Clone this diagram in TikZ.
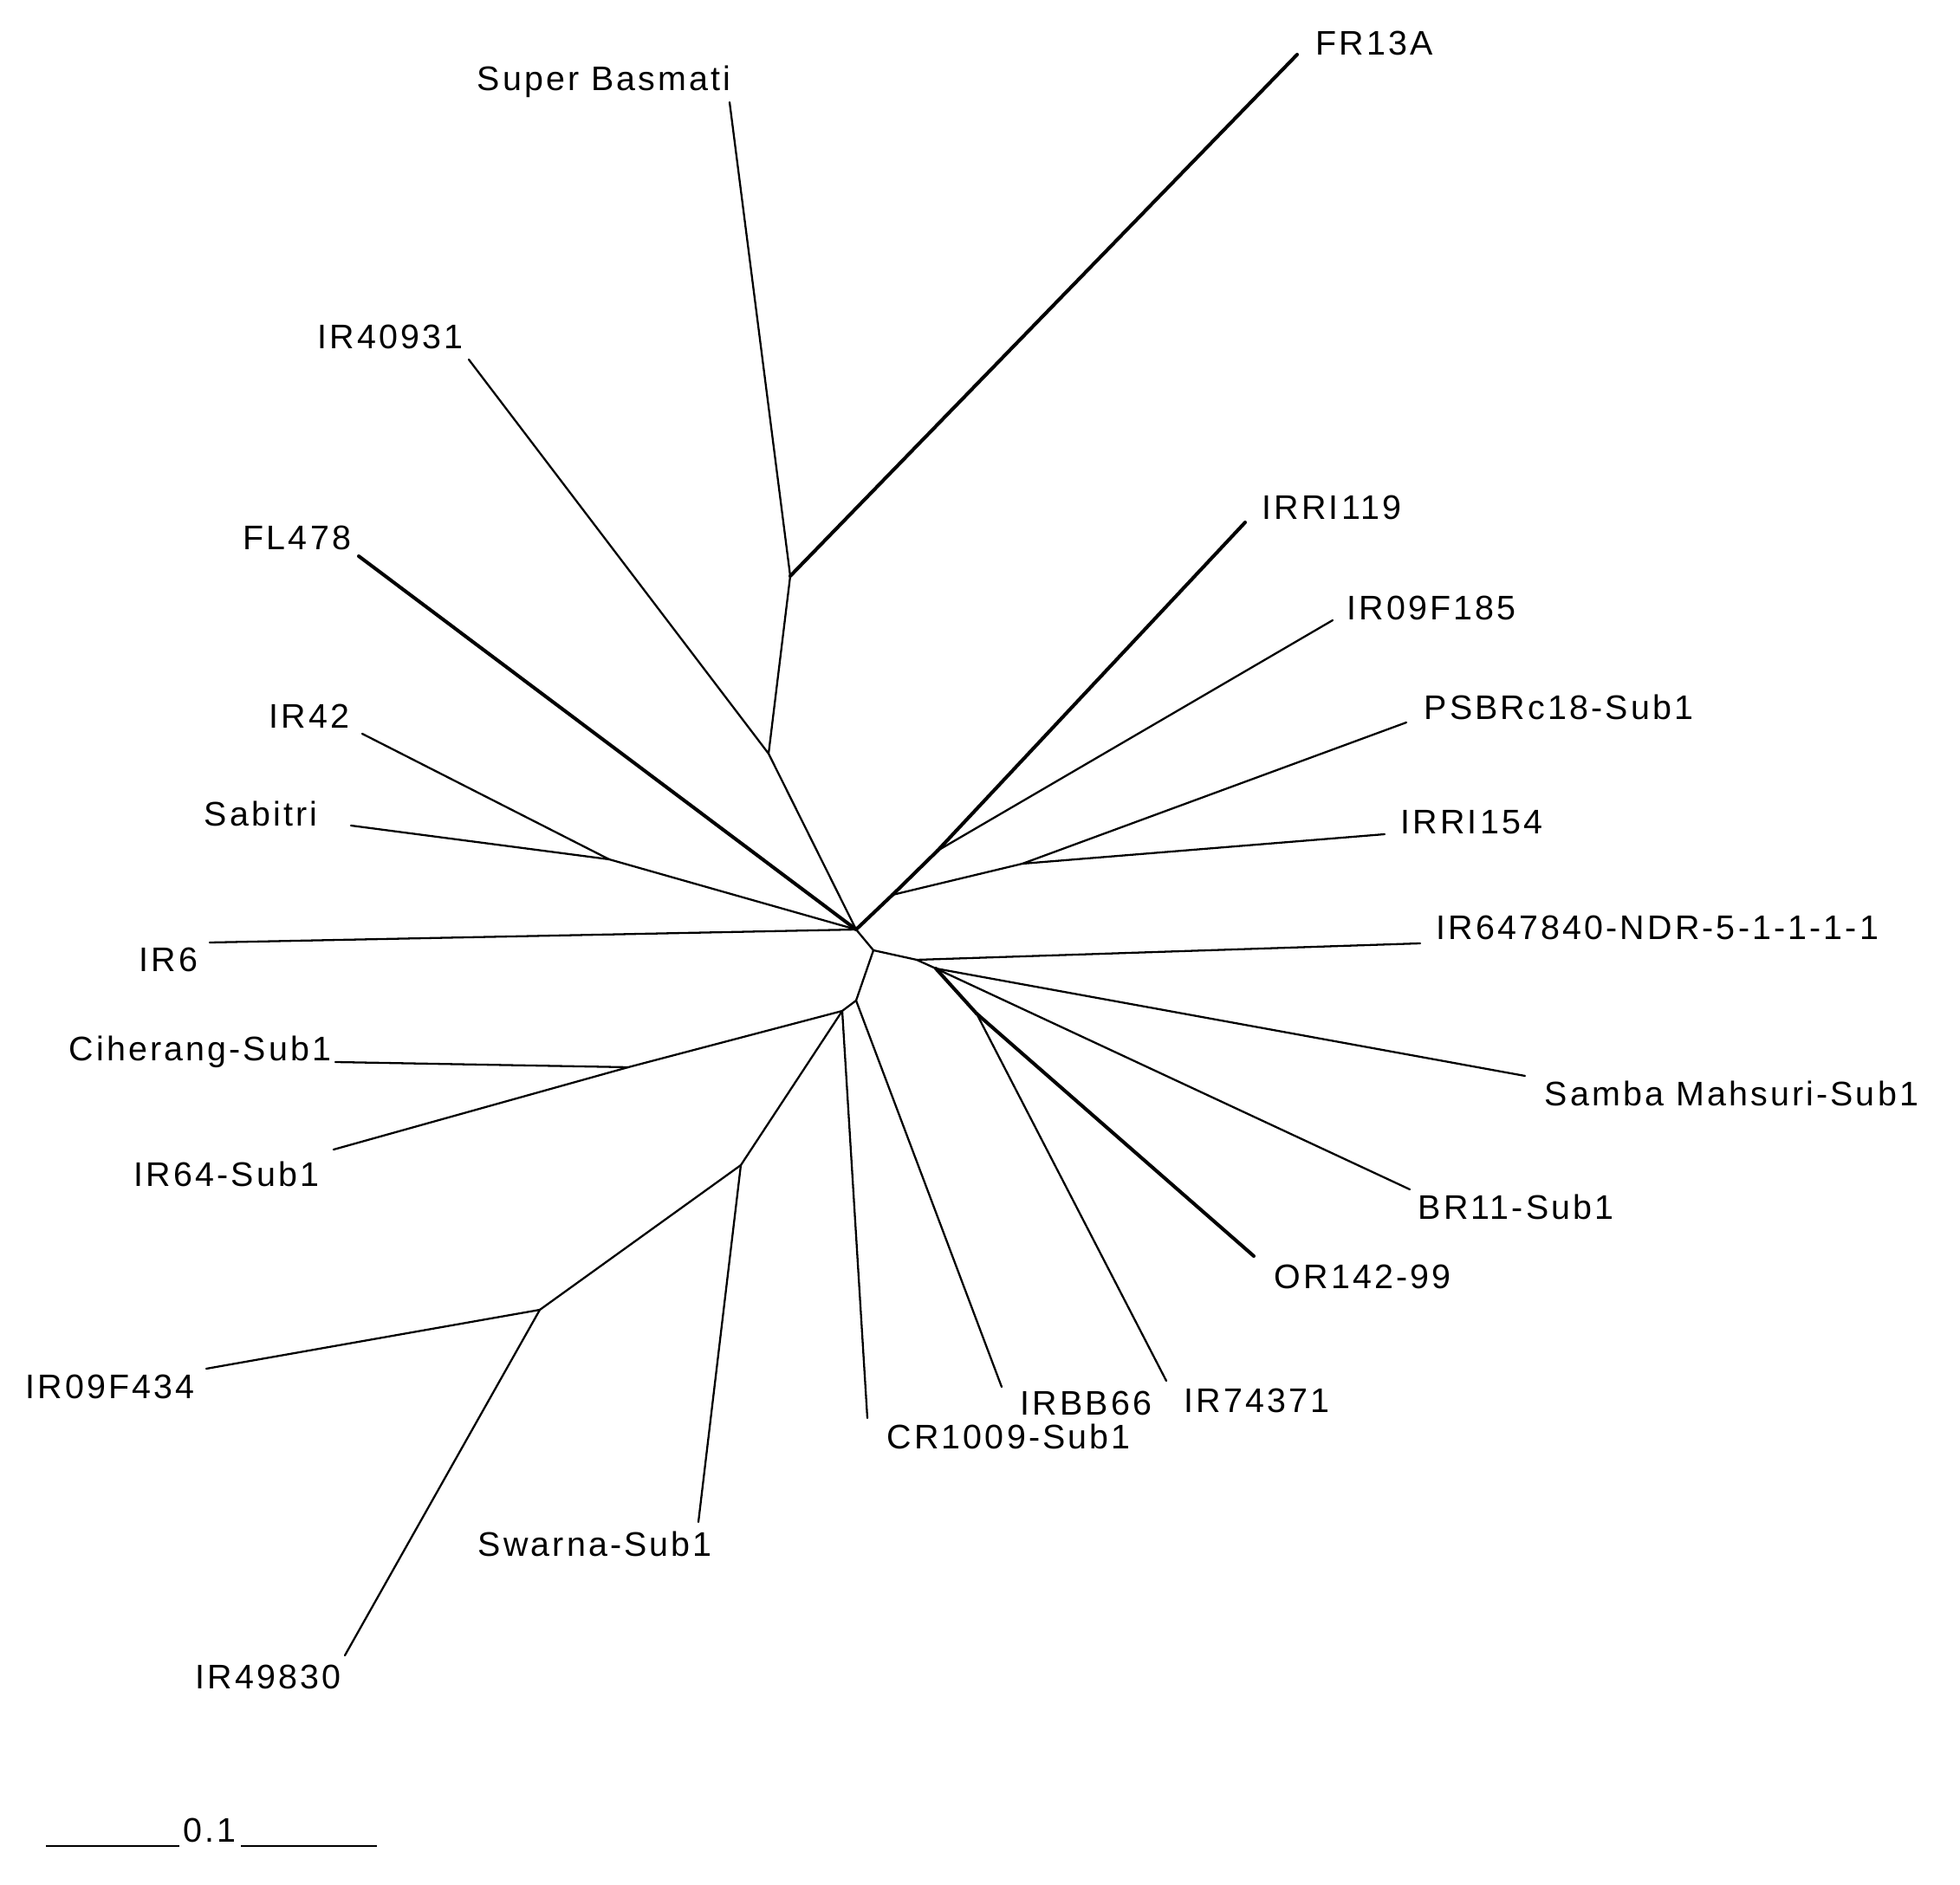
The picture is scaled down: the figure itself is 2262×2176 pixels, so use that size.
\documentclass[tikz,border=0pt]{standalone}
\usepackage{fontspec}
\setmainfont{Liberation Sans}[LetterSpace=8.0]
\usepackage{tikz}
\usetikzlibrary{positioning}
\usetikzlibrary{calc}

\begin{document}
\begin{tikzpicture}[x=0.01cm, y=-0.01cm,
  branch/.style={line width=0.65pt, line cap=round},
  boldbranch/.style={line width=1.15pt, line cap=round},
  lbl/.style={anchor=base west, inner sep=0pt, font=\fontsize{11.2pt}{13pt}\selectfont}]
\useasboundingbox (0,0) rectangle (2262,2176);
% -- inner nodes --
\coordinate (A) at (988,1073);
\coordinate (B) at (1008,1097);
\coordinate (C) at (988,1155);
\coordinate (D) at (972,1167);
\coordinate (E) at (1030,1033);
\coordinate (Ea) at (1082,982);
\coordinate (Eb) at (1180,997);
\coordinate (F) at (1058,1108);
\coordinate (G) at (1080,1118);
\coordinate (H) at (1127,1170);
\coordinate (I) at (855,1345);
\coordinate (J) at (623,1512);
\coordinate (K) at (887,870);
\coordinate (L) at (703,992);
\coordinate (M) at (912,665);
\coordinate (N) at (725,1232);
% -- tips --
\coordinate (fr13a) at (1497,63);
\coordinate (basmati) at (842,118);
\coordinate (ir40931) at (541,415);
\coordinate (fl478) at (414,642);
\coordinate (ir42) at (418,847);
\coordinate (sabitri) at (405,953);
\coordinate (ir6) at (242,1088);
\coordinate (ciherang) at (387,1226);
\coordinate (ir64) at (385,1327);
\coordinate (ir09f434) at (238,1580);
\coordinate (ir49830) at (398,1911);
\coordinate (swarna) at (806,1757);
\coordinate (cr1009) at (1001,1637);
\coordinate (irbb66) at (1156,1601);
\coordinate (ir74371) at (1346,1594);
\coordinate (or142) at (1447,1450);
\coordinate (br11) at (1627,1373);
\coordinate (samba) at (1760,1242);
\coordinate (ir647840) at (1639,1089);
\coordinate (irri154) at (1598,963);
\coordinate (psbrc18) at (1623,834);
\coordinate (ir09f185) at (1538,716);
\coordinate (irri119) at (1437,603);
% -- upper left clade --
\draw[branch] (A) -- (K);
\draw[branch] (K) -- (M);
\draw[branch] (K) -- (ir40931);
\draw[branch] (M) -- (basmati);
\draw[boldbranch] (M) -- (fr13a);
\draw[boldbranch] (A) -- (fl478);
\draw[branch] (A) -- (L);
\draw[branch] (L) -- (ir42);
\draw[branch] (L) -- (sabitri);
\draw[branch] (A) -- (ir6);
% -- upper right clade --
\draw[boldbranch] (A) -- (E);
\draw[boldbranch] (E) -- (Ea);
\draw[boldbranch] (Ea) -- (irri119);
\draw[branch] (Ea) -- (ir09f185);
\draw[branch] (E) -- (Eb);
\draw[branch] (Eb) -- (psbrc18);
\draw[branch] (Eb) -- (irri154);
% -- lower right clade --
\draw[branch] (A) -- (B);
\draw[branch] (B) -- (F);
\draw[branch] (F) -- (ir647840);
\draw[branch] (F) -- (G);
\draw[branch] (G) -- (samba);
\draw[branch] (G) -- (br11);
\draw[boldbranch] (G) -- (H);
\draw[boldbranch] (H) -- (or142);
\draw[branch] (H) -- (ir74371);
% -- lower left clade --
\draw[branch] (B) -- (C);
\draw[branch] (C) -- (irbb66);
\draw[branch] (C) -- (D);
\draw[branch] (D) -- (cr1009);
\draw[branch] (D) -- (N);
\draw[branch] (N) -- (ciherang);
\draw[branch] (N) -- (ir64);
\draw[branch] (D) -- (I);
\draw[branch] (I) -- (swarna);
\draw[branch] (I) -- (J);
\draw[branch] (J) -- (ir09f434);
\draw[branch] (J) -- (ir49830);
% -- labels --
\node[lbl] (lfr13a) at (1518,64) {FR13A};
\node[lbl] (lbasmati) at (550,105) {Super Basmati};
\node[lbl] (lir40931) at (366,403) {IR40931};
\node[lbl] (lfl478) at (280,635) {FL478};
\node[lbl] (lir42) at (310,841) {IR42};
\node[lbl] (lsabitri) at (235,954) {Sabitri};
\node[lbl] (lir6) at (160,1122) {IR6};
\node[lbl] (lciherang) at (79,1225) {Ciherang-Sub1};
\node[lbl] (lir64) at (154,1369) {IR64-Sub1};
\node[lbl] (lir09f434) at (29,1614) {IR09F434};
\node[lbl] (lir49830) at (225,1949) {IR49830};
\node[lbl] (lswarna) at (551,1796) {Swarna-Sub1};
\node[lbl] (lcr1009) at (1023,1672) {CR1009-Sub1};
\node[lbl] (lirbb66) at (1177,1633) {IRBB66};
\node[lbl] (lir74371) at (1366,1630) {IR74371};
\node[lbl] (lor142) at (1470,1487) {OR142-99};
\node[lbl] (lbr11) at (1636,1407) {BR11-Sub1};
\node[lbl] (lsamba) at (1782,1277) {Samba Mahsuri-Sub1};
\node[lbl] (lir647840) at (1657,1085) {IR647840-NDR-5-1-1-1-1};
\node[lbl] (lirri154) at (1616,962) {IRRI154};
\node[lbl] (lpsbrc18) at (1643,831) {PSBRc18-Sub1};
\node[lbl] (lir09f185) at (1554,716) {IR09F185};
\node[lbl] (lirri119) at (1456,600) {IRRI119};
% -- scale bar --
\coordinate (sbL) at (53,2131);
\coordinate (sbLm) at (207,2131);
\coordinate (sbRm) at (278,2131);
\coordinate (sbR) at (435,2131);
\node[lbl] (scalelbl) at (211,2126) {0.1};
\draw[branch, line cap=butt] (sbL) -- (sbLm);
\draw[branch, line cap=butt] (sbRm) -- (sbR);
\end{tikzpicture}
\end{document}
